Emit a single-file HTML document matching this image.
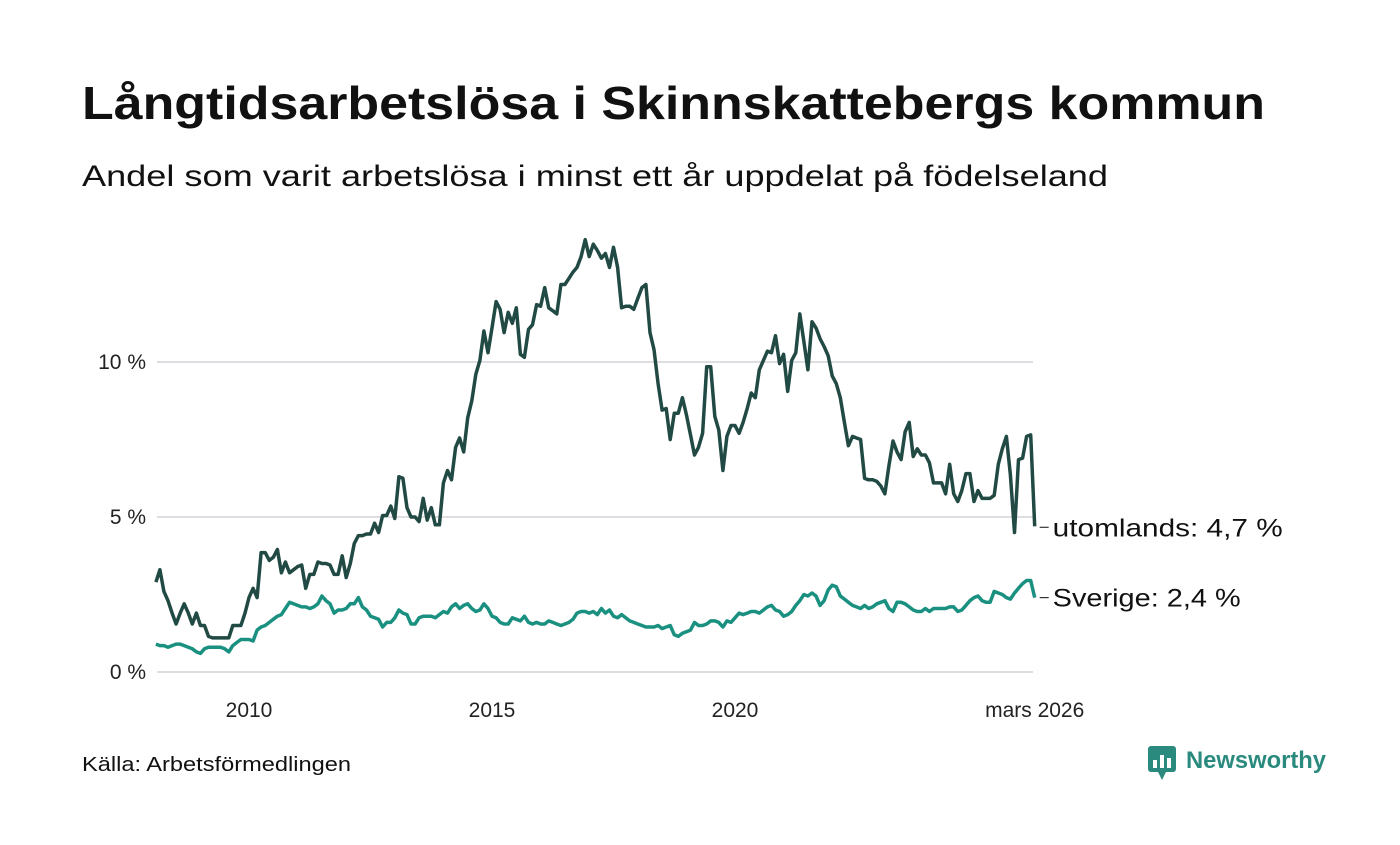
<!DOCTYPE html>
<html><head><meta charset="utf-8">
<style>
body{margin:0;background:#fff;width:1400px;height:840px;overflow:hidden;font-family:"Liberation Sans",sans-serif;color:#111}
svg text{font-family:"Liberation Sans",sans-serif}
</style></head>
<body>
<svg width="1400" height="840" viewBox="0 0 1400 840">
<text x="82" y="119" font-size="46" font-weight="bold" fill="#111" textLength="1183" lengthAdjust="spacingAndGlyphs">Långtidsarbetslösa i Skinnskattebergs kommun</text>
<text x="82" y="186" font-size="30" fill="#111" textLength="1026" lengthAdjust="spacingAndGlyphs">Andel som varit arbetslösa i minst ett år uppdelat på födelseland</text>
<g id="grid"></g>
<g id="yticks"></g>
<g id="xticks"></g>
<g id="series"></g>
<g id="labels"></g>
<text x="82" y="771" font-size="20" fill="#111" textLength="269" lengthAdjust="spacingAndGlyphs">Källa: Arbetsförmedlingen</text>
<g>
<rect x="1148" y="746" width="28" height="26" rx="3" fill="#2a8a7e"/>
<path d="M1158 772 L1162 780 L1166 772 Z" fill="#2a8a7e"/>
<rect x="1153" y="760" width="4" height="8" fill="#fff"/><rect x="1160" y="755" width="4" height="13" fill="#fff"/><rect x="1167" y="758" width="4" height="10" fill="#fff"/>
<text x="1186" y="768" font-size="24" font-weight="bold" fill="#2a8a7e" textLength="140" lengthAdjust="spacingAndGlyphs">Newsworthy</text>
</g>
</svg>
<script>
const yTicks=[0,5,10];
const yTickLabels=["0 %","5 %","10 %"];
const xTickYears=[2010,2015,2020];
const lastLabel="mars 2026";
const utomlands=[2.9,3.3,2.6,2.3,1.9,1.55,1.9,2.2,1.9,1.55,1.9,1.5,1.5,1.15,1.1,1.1,1.1,1.1,1.1,1.5,1.5,1.5,1.9,2.4,2.7,2.4,3.85,3.85,3.6,3.7,3.95,3.2,3.55,3.2,3.3,3.4,3.45,2.7,3.15,3.15,3.55,3.5,3.5,3.45,3.15,3.15,3.75,3.05,3.5,4.15,4.4,4.4,4.45,4.45,4.8,4.5,5.05,5.05,5.35,4.95,6.3,6.25,5.3,5.0,5.0,4.85,5.6,4.9,5.3,4.75,4.75,6.1,6.5,6.2,7.25,7.55,7.1,8.2,8.75,9.6,10.05,11.0,10.3,11.1,11.95,11.7,10.95,11.6,11.25,11.75,10.25,10.15,11.05,11.2,11.85,11.8,12.4,11.75,11.65,11.55,12.5,12.5,12.7,12.9,13.05,13.4,13.95,13.4,13.8,13.6,13.35,13.5,13.05,13.7,13.05,11.75,11.8,11.8,11.7,12.05,12.4,12.5,10.95,10.4,9.3,8.45,8.5,7.5,8.35,8.35,8.85,8.3,7.65,7.0,7.25,7.7,9.85,9.85,8.25,7.8,6.5,7.6,7.95,7.95,7.7,8.05,8.5,9.0,8.85,9.75,10.05,10.35,10.3,10.85,9.95,10.25,9.05,10.05,10.3,11.55,10.65,9.75,11.3,11.1,10.75,10.5,10.2,9.55,9.3,8.85,8.05,7.3,7.6,7.55,7.5,6.25,6.2,6.2,6.15,6.0,5.75,6.65,7.45,7.1,6.85,7.75,8.05,6.95,7.2,7.0,7.0,6.75,6.1,6.1,6.1,5.75,6.7,5.75,5.5,5.85,6.4,6.4,5.5,5.85,5.6,5.6,5.6,5.7,6.7,7.2,7.6,6.35,4.5,6.85,6.9,7.6,7.65,4.7];
const sverige=[0.9,0.85,0.85,0.8,0.85,0.9,0.9,0.85,0.8,0.75,0.65,0.6,0.75,0.8,0.8,0.8,0.8,0.75,0.65,0.85,0.95,1.05,1.05,1.05,1.0,1.35,1.45,1.5,1.6,1.7,1.8,1.85,2.05,2.25,2.2,2.15,2.1,2.1,2.05,2.1,2.2,2.45,2.3,2.2,1.9,2.0,2.0,2.05,2.2,2.2,2.4,2.1,2.0,1.8,1.75,1.7,1.45,1.6,1.6,1.75,2.0,1.9,1.85,1.55,1.55,1.75,1.8,1.8,1.8,1.75,1.85,1.95,1.9,2.1,2.2,2.05,2.15,2.2,2.05,1.95,2.0,2.2,2.05,1.8,1.75,1.6,1.55,1.55,1.75,1.7,1.65,1.8,1.6,1.55,1.6,1.55,1.55,1.65,1.6,1.55,1.5,1.55,1.6,1.7,1.9,1.95,1.95,1.9,1.95,1.85,2.05,1.9,2.0,1.8,1.75,1.85,1.75,1.65,1.6,1.55,1.5,1.45,1.45,1.45,1.5,1.4,1.45,1.5,1.2,1.15,1.25,1.3,1.35,1.6,1.5,1.5,1.55,1.65,1.65,1.6,1.45,1.65,1.6,1.75,1.9,1.85,1.9,1.95,1.95,1.9,2.0,2.1,2.15,2.0,1.95,1.8,1.85,1.95,2.15,2.3,2.5,2.45,2.55,2.45,2.15,2.3,2.65,2.8,2.75,2.45,2.35,2.25,2.15,2.1,2.05,2.15,2.05,2.1,2.2,2.25,2.3,2.05,1.95,2.25,2.25,2.2,2.1,2.0,1.95,1.95,2.05,1.95,2.05,2.05,2.05,2.05,2.1,2.1,1.95,2.0,2.15,2.3,2.4,2.45,2.3,2.25,2.25,2.6,2.55,2.5,2.4,2.35,2.55,2.7,2.85,2.95,2.95,2.4];
const lastMonth=2026+2/12; // mars 2026
const SVGNS="http://www.w3.org/2000/svg";
const X0=157,X1=1033;
function xScale(t){return 249+(t-2010)*48.6;}
function yScale(v){return 672-v*31;}
function mk(tag,attrs,parent,text){const e=document.createElementNS(SVGNS,tag);for(const k in attrs)e.setAttribute(k,attrs[k]);if(text!==undefined)e.textContent=text;parent.appendChild(e);return e;}
const grid=document.getElementById('grid'),yt=document.getElementById('yticks'),xt=document.getElementById('xticks'),ser=document.getElementById('series'),lab=document.getElementById('labels');
yTicks.forEach((v,i)=>{
  const l=mk('line',{x1:X0,x2:X1,y1:yScale(v),y2:yScale(v),stroke:'#dedde2','stroke-width':2},grid);
  
  
  const t=mk('text',{x:146,y:yScale(v)+7,'font-size':21,'text-anchor':'end',fill:'#222'},yt,yTickLabels[i]);
  
  
});
xTickYears.forEach(y=>{
  const t=mk('text',{x:xScale(y),y:717,'font-size':21,'text-anchor':'middle',fill:'#222'},xt,String(y));
  
  
});
const lt=mk('text',{x:xScale(lastMonth),y:717,'font-size':21,'text-anchor':'middle',fill:'#222'},xt,lastLabel);


function path(arr,color,name){
  const n=arr.length;
  const d=arr.map((v,i)=>(i?'L':'M')+xScale(lastMonth-(n-1-i)/12).toFixed(1)+' '+yScale(v).toFixed(1)).join(' ');
  const p=mk('path',{d:d,fill:'none',stroke:color,'stroke-width':3.5,'stroke-linejoin':'round'},ser);
  
  
}
path(sverige,'#1a9080','line-sverige');
path(utomlands,'#224a44','line-utomlands');
function endLabel(arr,txt,name,dy,len){
  const v=arr[arr.length-1],x=xScale(lastMonth),y=yScale(v)+dy;
  mk('line',{x1:x+5,x2:x+14,y1:y,y2:y,stroke:'#333','stroke-width':1.2},lab);
  const t=mk('text',{x:x+18,y:y+9,'font-size':25,fill:'#111',textLength:len,lengthAdjust:'spacingAndGlyphs'},lab,txt);
  
  
}
endLabel(utomlands,'utomlands: '+String(utomlands[utomlands.length-1]).replace('.',',')+' %','end-label-utomlands',1,230);
endLabel(sverige,'Sverige: '+String(sverige[sverige.length-1]).replace('.',',')+' %','end-label-sverige',0,188);
</script>
</body></html>
